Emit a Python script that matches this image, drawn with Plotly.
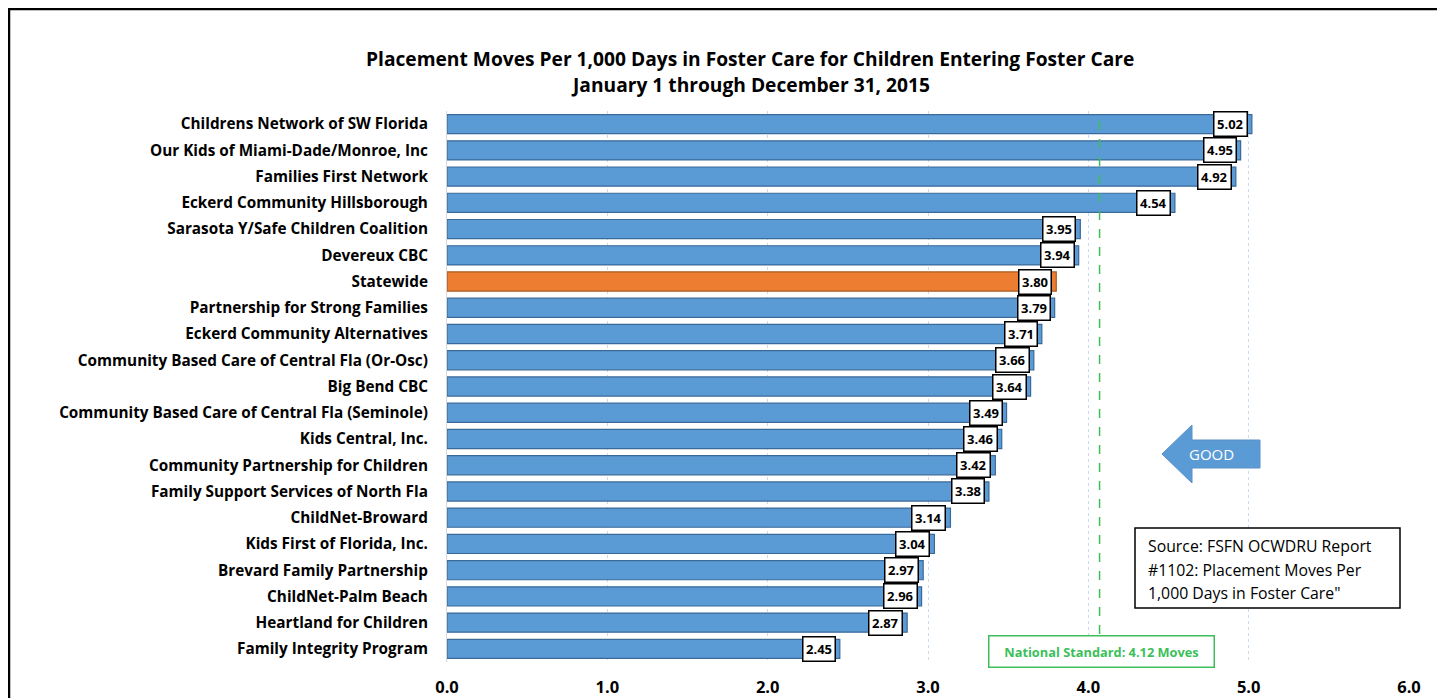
import plotly.graph_objects as go

categories = [
    "Childrens Network of SW Florida",
    "Our Kids of Miami-Dade/Monroe, Inc",
    "Families First Network",
    "Eckerd Community Hillsborough",
    "Sarasota Y/Safe Children Coalition",
    "Devereux CBC",
    "Statewide",
    "Partnership for Strong Families",
    "Eckerd Community Alternatives",
    "Community Based Care of Central Fla (Or-Osc)",
    "Big Bend CBC",
    "Community Based Care of Central Fla (Seminole)",
    "Kids Central, Inc.",
    "Community Partnership for Children",
    "Family Support Services of North Fla",
    "ChildNet-Broward",
    "Kids First of Florida, Inc.",
    "Brevard Family Partnership",
    "ChildNet-Palm Beach",
    "Heartland for Children",
    "Family Integrity Program",
]
values = [5.02, 4.95, 4.92, 4.54, 3.95, 3.94, 3.80, 3.79, 3.71, 3.66, 3.64,
          3.49, 3.46, 3.42, 3.38, 3.14, 3.04, 2.97, 2.96, 2.87, 2.45]
x_ticks = [0, 1, 2, 3, 4, 5, 6]
x_tick_labels = ["0.0", "1.0", "2.0", "3.0", "4.0", "5.0", "6.0"]
national_standard_label = "National Standard: 4.12 Moves"
national_line_x = 4.07
title_lines = ["Placement Moves Per 1,000 Days in Foster Care for Children Entering Foster Care",
               "January 1 through December 31, 2015"]
source_lines = ["Source: FSFN OCWDRU Report",
                "#1102: Placement Moves Per",
                "1,000 Days in Foster Care\""]

FONT = "Open Sans"
BLUE = "#5b9bd5"
ORANGE = "#ed7d31"
GREEN = "#3cbf5a"

colors = [ORANGE if c == "Statewide" else BLUE for c in categories]
edges = ["#a85a22" if c == "Statewide" else "#3a6a99" for c in categories]

fig = go.Figure()
fig.add_trace(go.Bar(
    x=values, y=categories, orientation="h",
    marker=dict(color=colors, line=dict(color=edges, width=1.2)),
    hoverinfo="x+y",
))

# value label boxes
for c, v in zip(categories, values):
    fig.add_annotation(
        x=v, y=c, xref="x", yref="y", text=f"<b>{v:.2f}</b>",
        showarrow=False, xanchor="right", xshift=-4,
        font=dict(family=FONT, size=13, color="black"),
        bgcolor="white", bordercolor="black", borderwidth=1.5, borderpad=2.5,
    )

# page offset of the plot div (default body margin)
OX, OY = 8, 8
W, H = 1437, 690
ml, mr, mt, mb = 447 - OX, 36, 111 - OY, 36
pw = W - ml - mr
ph = H - mt - mb

def px2paper_x(px):
    return (px - OX - ml) / pw

def py2paper_y(py):
    return (H - mb - (py - OY)) / ph

def px2data_x(px):
    return (px - OX - ml) / pw * 6.0

# outer frame
fig.add_shape(type="rect", xref="paper", yref="paper",
              x0=px2paper_x(9), x1=px2paper_x(1440),
              y0=py2paper_y(720), y1=py2paper_y(9),
              line=dict(color="black", width=2.5), layer="above")

# national standard dashed line
fig.add_shape(type="line", xref="x", yref="paper",
              x0=national_line_x, x1=national_line_x,
              y0=py2paper_y(634), y1=py2paper_y(118),
              line=dict(color=GREEN, width=1.5, dash="dash"))

fig.add_annotation(
    x=px2data_x(1101.5), y=py2paper_y(651), xref="x", yref="paper",
    text=f"<b>{national_standard_label}</b>", showarrow=False,
    font=dict(family=FONT, size=12.8, color=GREEN),
    bgcolor="white", bordercolor=GREEN, borderwidth=1.5,
    width=222, height=28, xanchor="center", yanchor="middle",
)

# GOOD arrow
tip = px2data_x(1162)
neck = px2data_x(1192)
tail = px2data_x(1260)
yt, yb = py2paper_y(425), py2paper_y(483)
st, sb = py2paper_y(440), py2paper_y(468)
ym = py2paper_y(454)
path = (f"M {tip},{ym} L {neck},{yt} L {neck},{st} L {tail},{st} "
        f"L {tail},{sb} L {neck},{sb} L {neck},{yb} Z")
fig.add_shape(type="path", xref="x", yref="paper", path=path,
              fillcolor=BLUE, line=dict(color="#5a8fc8", width=1))
fig.add_annotation(x=px2data_x(1211), y=ym, xref="x", yref="paper",
                   text="GOOD", showarrow=False,
                   font=dict(family=FONT, size=15, color="white"))

# source box
fig.add_shape(type="rect", xref="x", yref="paper",
              x0=px2data_x(1135), x1=px2data_x(1400),
              y0=py2paper_y(608), y1=py2paper_y(528),
              fillcolor="white", line=dict(color="black", width=1.5))
for i, line in enumerate(source_lines):
    fig.add_annotation(
        x=px2data_x(1146), y=py2paper_y(546 + 23.5 * i), xref="x", yref="paper",
        text=line, showarrow=False, xanchor="left", yanchor="middle",
        font=dict(family=FONT, size=15.8, color="black"),
    )

# title
for i, line in enumerate(title_lines):
    fig.add_annotation(
        x=px2paper_x(750), y=py2paper_y(58 + 27 * i), xref="paper", yref="paper",
        text=f"<b>{line}</b>", showarrow=False,
        font=dict(family=FONT, size=19.2, color="black"),
        xanchor="center", yanchor="middle",
    )

fig.update_layout(
    width=W, height=H,
    margin=dict(l=ml, r=mr, t=mt, b=mb, pad=0, autoexpand=False),
    paper_bgcolor="white", plot_bgcolor="white",
    showlegend=False, bargap=0.27,
    font=dict(family=FONT, color="black"),
)
fig.update_xaxes(
    range=[0, 6], tickvals=x_ticks, ticktext=[f"<b>{t}</b>" for t in x_tick_labels],
    showgrid=True, gridcolor="#c9dbf0", griddash="dot", gridwidth=1.2,
    zeroline=False, showline=False, automargin=False,
    ticks="outside", ticklen=10, tickcolor="rgba(0,0,0,0)",
    tickfont=dict(family=FONT, size=16.5, color="black"),
)
fig.update_yaxes(
    categoryorder="array", categoryarray=categories, autorange="reversed",
    showgrid=False, zeroline=False, showline=True, linecolor="#d9d9d9", linewidth=1,
    automargin=False,
    ticks="outside", ticklen=15, tickcolor="rgba(0,0,0,0)",
    tickfont=dict(family=FONT, size=15.3, color="black"),
    tickprefix="<b>", ticksuffix="</b>",
)

fig.write_html("out.html")
